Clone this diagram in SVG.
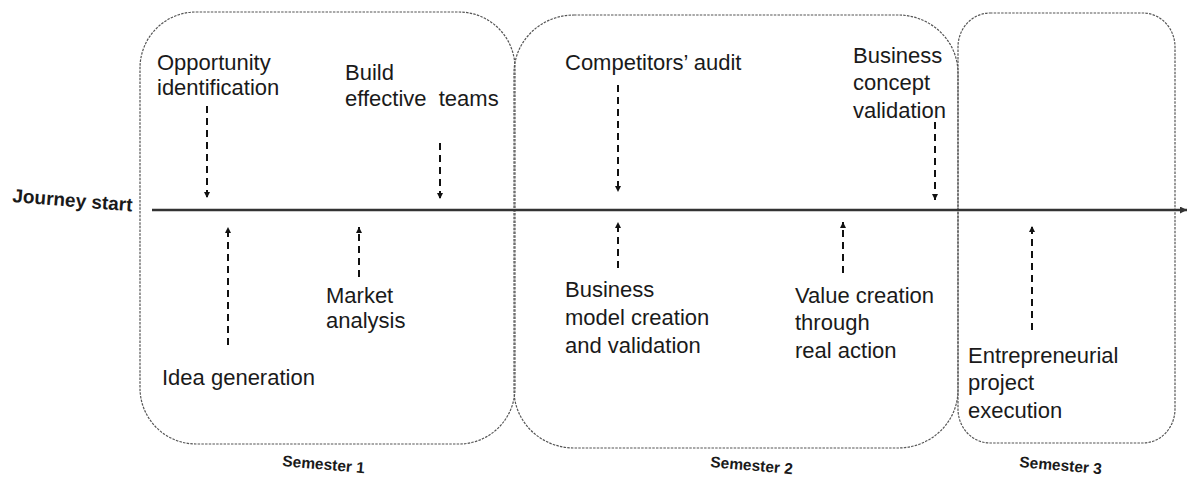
<svg xmlns="http://www.w3.org/2000/svg" width="1187" height="477" viewBox="0 0 1187 477">
<style>
.box{fill:none;stroke:#555;stroke-width:1.2;stroke-dasharray:2.5 1.2}
.lbl{font-family:"Liberation Sans",Arial,sans-serif;font-size:22px;fill:#1a1a1a;white-space:pre}
.sem{font-family:"Liberation Sans",Arial,sans-serif;font-size:15.5px;font-weight:bold;fill:#1a1a1a}
.start{font-family:"Liberation Sans",Arial,sans-serif;font-size:19px;font-weight:bold;fill:#1a1a1a}
.conn{fill:none;stroke:#111;stroke-width:2;stroke-dasharray:7 5;marker-end:url(#ah)}
.axis{fill:none;stroke:#333;stroke-width:2.5;marker-end:url(#axh)}
</style>
<defs>
<marker id="ah" viewBox="0 0 10 10" refX="10" refY="5" markerWidth="6" markerHeight="7" markerUnits="userSpaceOnUse" orient="auto">
<path d="M0,0 L10,5 L0,10 z" fill="#111"/>
</marker>
<marker id="axh" viewBox="0 0 10 10" refX="10" refY="5" markerWidth="7" markerHeight="7" markerUnits="userSpaceOnUse" orient="auto">
<path d="M0,0 L10,5 L0,10 z" fill="#333"/>
</marker>
</defs>

<g id="semester1">
<rect class="box" x="140" y="12" width="375" height="432" rx="56" ry="56"/>
<text class="sem" x="282" y="466" transform="rotate(5 282 466)">Semester 1</text>
</g>
<g id="semester2">
<rect class="box" x="514" y="15" width="444" height="433" rx="60" ry="58"/>
<text class="sem" x="710" y="467" transform="rotate(5 710 467)">Semester 2</text>
</g>
<g id="semester3">
<rect class="box" x="958" y="13" width="217" height="430" rx="32" ry="34"/>
<text class="sem" x="1019" y="467" transform="rotate(5 1019 467)">Semester 3</text>
</g>

<g id="journey-start">
<text class="start" x="12" y="202" transform="rotate(4.5 12 202)">Journey start</text>
</g>

<g id="opportunity-identification">
<text class="lbl" x="157" y="70">Opportunity</text>
<text class="lbl" x="157" y="95">identification</text>
</g>
<g id="build-effective-teams">
<text class="lbl" x="345" y="80">Build</text>
<text class="lbl" x="345" y="106" xml:space="preserve">effective  teams</text>
</g>
<g id="idea-generation">
<text class="lbl" x="162" y="385">Idea generation</text>
</g>
<g id="market-analysis">
<text class="lbl" x="326" y="303">Market</text>
<text class="lbl" x="326" y="328">analysis</text>
</g>
<g id="competitors-audit">
<text class="lbl" x="565" y="70">Competitors’ audit</text>
</g>
<g id="business-concept-validation">
<text class="lbl" x="853" y="63">Business</text>
<text class="lbl" x="853" y="90">concept</text>
<text class="lbl" x="853" y="118">validation</text>
</g>
<g id="business-model">
<text class="lbl" x="565" y="297">Business</text>
<text class="lbl" x="565" y="325">model creation</text>
<text class="lbl" x="565" y="353">and validation</text>
</g>
<g id="value-creation">
<text class="lbl" x="795" y="303">Value creation</text>
<text class="lbl" x="795" y="330">through</text>
<text class="lbl" x="795" y="358">real action</text>
</g>
<g id="entrepreneurial-project">
<text class="lbl" x="968" y="363">Entrepreneurial</text>
<text class="lbl" x="968" y="390">project</text>
<text class="lbl" x="968" y="418">execution</text>
</g>

<g id="connectors">
<line class="axis" x1="152" y1="210" x2="1187" y2="210"/>
<line class="conn" x1="207" y1="106" x2="207" y2="198"/>
<line class="conn" x1="440" y1="143" x2="440" y2="199"/>
<line class="conn" x1="618" y1="85" x2="618" y2="192"/>
<line class="conn" x1="935" y1="122" x2="935" y2="200"/>
<line class="conn" x1="228" y1="345" x2="228" y2="227"/>
<line class="conn" x1="359" y1="277" x2="359" y2="227"/>
<line class="conn" x1="618" y1="268" x2="618" y2="222"/>
<line class="conn" x1="843" y1="273" x2="843" y2="222"/>
<line class="conn" x1="1032" y1="330" x2="1032" y2="226"/>
</g>
</svg>
